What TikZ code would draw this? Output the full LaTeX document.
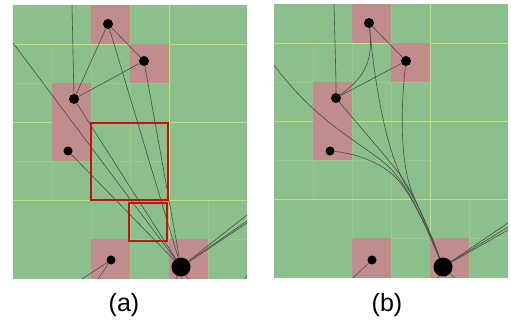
\documentclass[tikz,border=0pt]{standalone}
\usepackage{fontspec}
\setmainfont{Liberation Sans}
\definecolor{cellgreen}{RGB}{139,191,139}
\definecolor{cellpink}{RGB}{192,140,140}
\definecolor{majorline}{RGB}{196,226,120}
\definecolor{minorline}{RGB}{152,200,138}
\definecolor{boxred}{RGB}{196,16,16}
\tikzset{
  vertex/.style={circle,fill=black,inner sep=0pt,minimum size=10pt},
  small vertex/.style={vertex,minimum size=9pt},
  hub/.style={vertex,minimum size=19pt},
  link/.style={draw=black!70,line width=0.6pt},
  major/.style={draw=majorline,line width=0.8pt},
  minor/.style={draw=minorline,line width=0.5pt},
  pinkcell/.style={fill=cellpink},
  roi/.style={draw=boxred,line width=1.6pt},
  caption/.style={font=\fontsize{25}{28}\selectfont,inner sep=0pt}
}
% quadtree background of one panel, origin at its top left corner
\newcommand\quadgrid{%
  \fill[cellgreen] (0,0) rectangle (234,274);
  \draw[minor] (39,39) -- (39,195);
  \draw[minor] (78,39) -- (78,274);
  \draw[minor] (117,0) -- (117,274);
  \draw[minor] (0,78) -- (156,78);
  \draw[minor] (0,156) -- (156,156);
  \draw[minor] (195,195) -- (195,274);
  \draw[minor] (78,234) -- (234,234);
  \draw[major] (156,0) -- (156,274);
  \draw[major] (0,39) -- (234,39);
  \draw[major] (0,117) -- (234,117);
  \draw[major] (0,195) -- (234,195);
  \fill[pinkcell] (78,0) rectangle (117,39);
  \fill[pinkcell] (117,39) rectangle (156,78);
  \fill[pinkcell] (39,78) rectangle (78,156);
  \fill[pinkcell] (78,234) rectangle (117,274);
  \fill[pinkcell] (156,234) rectangle (195,274);
}
\begin{document}
\begin{tikzpicture}[x=1pt,y=-1pt]
  \useasboundingbox[fill=white] (0,0) rectangle (511,320);

  % (a) straight links
  \begin{scope}[shift={(13,5)}]
    \quadgrid
    \node[vertex] (aA) at (95,19) {};
    \node[vertex] (aB) at (131,56) {};
    \node[vertex] (aC) at (61,94) {};
    \node[small vertex] (aD) at (55,146) {};
    \node[small vertex] (aE) at (98,255) {};
    \node[hub] (aF) at (168,262) {};
    \coordinate (aTop) at (59,0);
    \coordinate (aLeft) at (0,38);
    \coordinate (aR1) at (234,210);
    \coordinate (aR2) at (234,216);
    \coordinate (aR3) at (234,218);
    \coordinate (aS1) at (69,274);
    \coordinate (aS2) at (85,274);
    \coordinate (aS3) at (163,274);
    \coordinate (aS4) at (169,274);
    \coordinate (aS5) at (175,274);
    \coordinate (aS6) at (232,274);
    \coordinate (aS7) at (234,270);
    \draw[link] (aTop) -- (aC);
    \draw[link] (aA) -- (aC);
    \draw[link] (aA) -- (aB);
    \draw[link] (aB) -- (aC);
    \draw[link] (aA) -- (aF);
    \draw[link] (aB) -- (aF);
    \draw[link] (aC) -- (aF);
    \draw[link] (aD) -- (aF);
    \draw[link] (aLeft) -- (aF);
    \draw[link] (aF) -- (aR1);
    \draw[link] (aF) -- (aR2);
    \draw[link] (aF) -- (aR3);
    \draw[link] (aE) -- (aS1);
    \draw[link] (aE) -- (aS2);
    \draw[link] (aF) -- (aS3);
    \draw[link] (aF) -- (aS4);
    \draw[link] (aF) -- (aS5);
    \draw[link] (aS6) -- (aS7);
    \draw[roi] (78,118) rectangle (155,195);
    \draw[roi] (116,198) rectangle (154,236);
  \end{scope}

  % (b) bundled links
  \begin{scope}[shift={(274,4)}]
    \quadgrid
    \node[vertex] (bA) at (95,19) {};
    \node[vertex] (bB) at (132,57) {};
    \node[vertex] (bC) at (62,94) {};
    \node[small vertex] (bD) at (56,147) {};
    \node[small vertex] (bE) at (98,256) {};
    \node[hub] (bF) at (169,263) {};
    \coordinate (bTop) at (60,0);
    \coordinate (bLeft) at (0,61);
    \coordinate (bR1) at (234,219);
    \coordinate (bR2) at (234,223);
    \coordinate (bR3) at (234,226);
    \coordinate (bS1) at (79,274);
    \coordinate (bS2) at (164,274);
    \coordinate (bS3) at (172,274);
    \coordinate (bS4) at (181,274);
    \draw[link] (bTop) .. controls (61,40) and (62,70) .. (bC);
    \draw[link] (bA) .. controls (100,60) and (88,75) .. (bC);
    \draw[link] (bA) -- (bB);
    \draw[link] (bB) -- (bC);
    \draw[link] (bA) .. controls (104,110) and (118,160) .. (134,185)
      .. controls (145,202) and (155,225) .. (bF);
    \draw[link] (bB) .. controls (126,110) and (127,160) .. (138,188)
      .. controls (145,205) and (155,225) .. (bF);
    \draw[link] (bC) .. controls (85,122) and (112,152) .. (127,172)
      .. controls (140,190) and (153,222) .. (bF);
    \draw[link] (bD) .. controls (85,150) and (110,160) .. (124,176)
      .. controls (138,192) and (152,222) .. (bF);
    \draw[link] (bLeft) .. controls (40,115) and (80,135) .. (108,157)
      .. controls (133,176) and (151,220) .. (bF);
    \draw[link] (bF) -- (bR1);
    \draw[link] (bF) -- (bR2);
    \draw[link] (bF) -- (bR3);
    \draw[link] (bE) -- (bS1);
    \draw[link] (bF) -- (bS2);
    \draw[link] (bF) -- (bS3);
    \draw[link] (bF) -- (bS4);
  \end{scope}

  \node[caption] (capa) at (124,305) {(a)};
  \node[caption] (capb) at (387,305) {(b)};
\end{tikzpicture}
\end{document}
